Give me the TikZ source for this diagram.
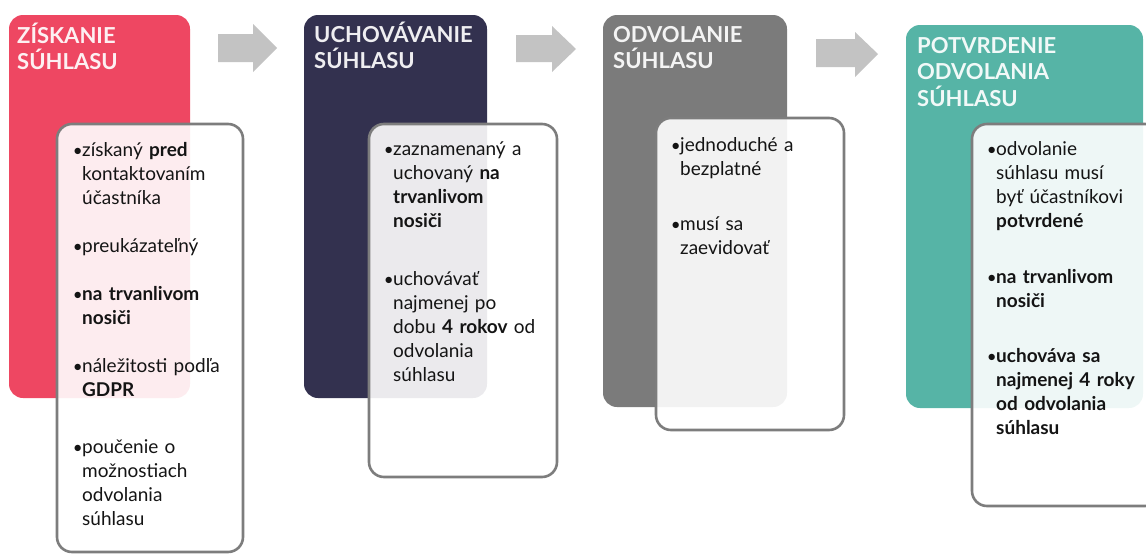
\documentclass[tikz,border=0pt]{standalone}
\usepackage{fontspec}
\setmainfont{Lato}
\definecolor{cred}{RGB}{238,71,98}
\definecolor{cnavy}{RGB}{51,49,79}
\definecolor{cgrey}{RGB}{123,123,123}
\definecolor{cteal}{RGB}{86,180,166}
\definecolor{carrow}{RGB}{195,195,195}
\definecolor{cborder}{RGB}{125,125,125}
\definecolor{ctext}{RGB}{20,20,20}
\tikzset{
  phase/.style={rounded corners=14pt},
  card/.style={draw=cborder, line width=2.6pt, fill=white, fill opacity=0.9, rounded corners=15pt},
  ttl/.style={anchor=base west, inner sep=0pt, text=white, text opacity=0.92, text width=240pt, align=left,
     font=\fontsize{22}{26.5}\selectfont\bfseries},
  itm/.style={anchor=base west, inner sep=0pt, text=ctext, text width=170pt, align=left,
     font=\fontsize{19}{24}\selectfont},
  flow/.style={fill=carrow}
}
\newcommand{\bul}{\llap{\raisebox{0pt}{\fontsize{17}{17}\selectfont •}\kern-0.5pt}}
\begin{document}
\begin{tikzpicture}[x=1pt,y=-1pt]
\useasboundingbox (0,0) rectangle (1146,554);
\clip (0,0) rectangle (1146,554);
% phase boxes
\fill[phase, cred]  (9,15) rectangle (190,398);
\fill[phase, cnavy] (304,15) rectangle (487,398);
\fill[phase, cgrey] (603,15) rectangle (787,407);
\fill[phase, cteal] (906,25) rectangle (1143,408);
% arrows
\fill[flow] (218,34) -- (253,34) -- (253,24) -- (277,48) -- (253,72) -- (253,62) -- (218,62) -- cycle;
\fill[flow] (516,35) -- (552,35) -- (552,26) -- (576,49) -- (552,72) -- (552,62) -- (516,62) -- cycle;
\fill[flow] (816,39) -- (855,39) -- (855,32) -- (878,54) -- (855,77) -- (855,67) -- (816,67) -- cycle;
% titles
\node[ttl] (t1) at (17,43) {ZÍSKANIE\\SÚHLASU};
\node[ttl] (t2) at (314,42) {UCHOVÁVANIE\\SÚHLASU};
\node[ttl] (t3) at (613,42) {ODVOLANIE\\SÚHLASU};
\node[ttl] (t4) at (917,53) {POTVRDENIE\\ODVOLANIA\\SÚHLASU};
% cards
\draw[card] (57,124) rectangle (243,552);
\draw[card] (369,124) rectangle (557,477);
\draw[card] (656,118) rectangle (844,430);
\draw[card] (972,124) rectangle (1160,506);
% card 1
\node[itm] (a1) at (82,156) {\bul získaný \textbf{pred}\\kontaktovaním\\účastníka};
\node[itm] (a2) at (82,252) {\bul preukázateľný};
\node[itm] (a3) at (82,300) {\bul\textbf{na trvanlivom}\\\textbf{nosiči}};
\node[itm] (a4) at (82,372) {\bul náležitosti podľa\\\textbf{GDPR}};
\node[itm] (a5) at (82,453) {\bul poučenie o\\možnostiach\\odvolania\\súhlasu};
% card 2
\node[itm] (b1) at (393,155) {\bul zaznamenaný a\\uchovaný \textbf{na}\\\textbf{trvanlivom}\\\textbf{nosiči}};
\node[itm] (b2) at (393,285) {\bul uchovávať\\najmenej po\\dobu \textbf{4 rokov} od\\odvolania\\súhlasu};
% card 3
\node[itm] (c1) at (680,151) {\bul jednoduché a\\bezplatné};
\node[itm] (c2) at (680,230) {\bul musí sa\\zaevidovať};
% card 4
\node[itm] (d1) at (996,155) {\bul odvolanie\\súhlasu musí\\byť účastníkovi\\\textbf{potvrdené}};
\node[itm] (d2) at (996,283) {\bul\textbf{na trvanlivom}\\\textbf{nosiči}};
\node[itm] (d3) at (996,362) {\bul\textbf{uchováva sa}\\\textbf{najmenej 4 roky}\\\textbf{od odvolania}\\\textbf{súhlasu}};
\end{tikzpicture}
\end{document}
